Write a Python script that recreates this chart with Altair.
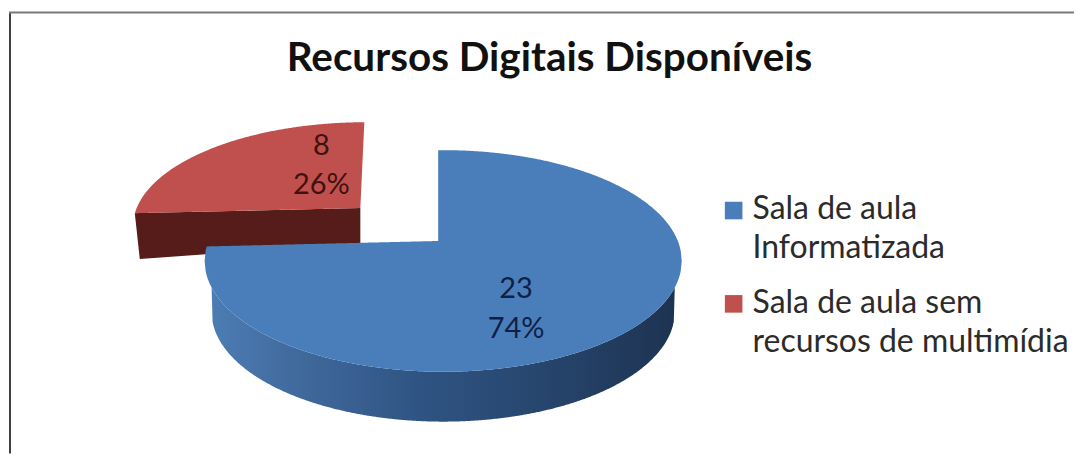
import numpy as np
import pandas as pd
import altair as alt

TITLE = "Recursos Digitais Disponíveis"
CATEGORIES = ["Sala de aula Informatizada", "Sala de aula sem recursos de multimídia"]
VALUES = [23, 8]
PERCENTS = ["74%", "26%"]
COLORS = ["#4a7ebb", "#c0504d"]
LEGEND_LINES = [["Sala de aula", "Informatizada"], ["Sala de aula sem", "recursos de multimídia"]]

# sweep of each slice, clockwise from 12 o'clock, derived from the values
total = sum(VALUES)
blue_sweep = 2 * np.pi * VALUES[0] / total


def rim(x, cx, cy, a, b, sign):
    r = np.clip(1 - ((x - cx) / a) ** 2, 0, 1)
    return cy + sign * b * np.sqrt(r)


def ray_hit(theta, apex, cx, cy, a, b):
    """Where the ray from the (perspective) pie centre at angle theta meets the rim."""
    dx, dy = np.sin(theta) * a, -np.cos(theta) * b
    px, py = (apex[0] - cx) / a, (apex[1] - cy) / b
    qx, qy = dx / a, dy / b
    A, B, C = qx**2 + qy**2, 2 * (px * qx + py * qy), px**2 + py**2 - 1
    t = (-B + np.sqrt(B**2 - 4 * A * C)) / (2 * A)
    return apex[0] + t * dx, apex[1] + t * dy


# ---- blue slice (projected disc)
B_APEX = (438, 241)
B_E = (443, 261, 239, 111)
B_FLOOR = (443, 312, 232, 110)
bx_end, by_end = ray_hit(blue_sweep, B_APEX, *B_E)
xs = np.linspace(B_E[0] - B_E[2], B_E[0] + B_E[2], 481)
xs = np.sort(np.concatenate([xs, [bx_end, B_APEX[0]]]))
rows = []
for x in xs:
    low = rim(x, *B_E, 1)
    if x < bx_end:
        rows.append((x, rim(x, *B_E, -1), low))
    elif x <= B_APEX[0]:
        f = (x - bx_end) / (B_APEX[0] - bx_end)
        rows.append((x, by_end + f * (B_APEX[1] - by_end), low))
    if x >= B_APEX[0]:
        rows.append((x + (1e-3 if x == B_APEX[0] else 0), rim(x, *B_E, -1), low))
blue_face = pd.DataFrame(rows, columns=["x", "y", "y2"]).assign(cat=CATEGORIES[0])

wall = []
for x in xs:
    top = rim(x, *B_E, 1)
    inside = abs(x - B_FLOOR[0]) < B_FLOOR[2]
    wall.append((x, top, rim(x, *B_FLOOR, 1) if inside else top))
blue_wall = pd.DataFrame(wall, columns=["x", "y", "y2"])

# ---- red slice (pulled out, smaller in perspective)
R_APEX = (360, 208)
R_E = (366, 227, 234, 105)
R_FAR_X = 364
rx_end, ry_end = ray_hit(blue_sweep, R_APEX, *R_E)
rx = np.linspace(rx_end, R_FAR_X, 200)
rx = np.sort(np.concatenate([rx, [R_APEX[0]]]))
far_y = rim(R_FAR_X, *R_E, -1)
r_low = np.where(
    rx <= R_APEX[0],
    ry_end + (rx - rx_end) / (R_APEX[0] - rx_end) * (R_APEX[1] - ry_end),
    R_APEX[1] + (rx - R_APEX[0]) / (R_FAR_X - R_APEX[0]) * (far_y - R_APEX[1]),
)
red_face = pd.DataFrame({"x": rx, "y": rim(rx, *R_E, -1), "y2": r_low, "cat": CATEGORIES[1]})

R_DEPTH_NEAR, R_DEPTH_APEX = 46, 35
rw_x = np.array([rx_end, rx_end + 5, R_APEX[0]])
rw_top = ry_end + (rw_x - rx_end) / (R_APEX[0] - rx_end) * (R_APEX[1] - ry_end)
rw_bot = np.array([ry_end, ry_end + R_DEPTH_NEAR, R_APEX[1] + R_DEPTH_APEX])
red_wall = pd.DataFrame({"x": rw_x, "y": rw_top, "y2": rw_bot})

X_SCALE = alt.Scale(domain=[8, 1075], nice=False, zero=False)
Y_SCALE = alt.Scale(domain=[454, 8], nice=False, zero=False)
X = alt.X("x:Q", scale=X_SCALE, axis=None)
Y = alt.Y("y:Q", scale=Y_SCALE, axis=None)
color_scale = alt.Scale(domain=CATEGORIES, range=COLORS)


def area(df, **mark):
    return alt.Chart(df).mark_area(orient="vertical", **mark).encode(x=X, y=Y, y2=alt.Y2("y2:Q"))


side_gradient = alt.LinearGradient(
    gradient="linear", x1=0, x2=1, y1=0, y2=0,
    stops=[
        alt.GradientStop(color="#4d7eb6", offset=0),
        alt.GradientStop(color="#40699c", offset=0.2),
        alt.GradientStop(color="#2f5483", offset=0.45),
        alt.GradientStop(color="#27466e", offset=0.7),
        alt.GradientStop(color="#1d3250", offset=1),
    ],
)

red_wall_layer = area(red_wall, color="#561c19")
red_face_layer = area(red_face).encode(color=alt.Color("cat:N", scale=color_scale, legend=None))
blue_wall_layer = area(blue_wall, color=side_gradient)
blue_face_layer = area(blue_face).encode(color=alt.Color("cat:N", scale=color_scale, legend=None))

# frame of the picture: left and top edges
frame_left = alt.Chart(pd.DataFrame({"x": [9], "y": [12], "y2": [454]})).mark_rule(
    color="#3f3f3f", strokeWidth=2
).encode(x=X, y=Y, y2="y2:Q")
frame_top = alt.Chart(pd.DataFrame({"x": [8], "x2": [1075], "y": [12]})).mark_rule(
    color="#7a7a7a", strokeWidth=2
).encode(x=X, x2="x2:Q", y=Y)

title = alt.Chart(pd.DataFrame({"x": [549.5], "y": [71], "t": [TITLE]})).mark_text(
    font="Lato", fontWeight="bold", fontSize=40.5, color="#111111", align="center", baseline="alphabetic"
).encode(x=X, y=Y, text="t:N")

labels = pd.DataFrame({
    "x": [516, 516, 321, 321],
    "y": [298, 338, 155, 194],
    "t": [str(VALUES[0]), PERCENTS[0], str(VALUES[1]), PERCENTS[1]],
    "cat": ["b", "b", "r", "r"],
})
data_labels = alt.Chart(labels).mark_text(
    font="Lato", fontSize=29, align="center", baseline="alphabetic"
).encode(
    x=X, y=Y, text="t:N",
    color=alt.Color("cat:N", scale=alt.Scale(domain=["b", "r"], range=["#0f1f45", "#3f1210"]), legend=None),
)

squares = alt.Chart(pd.DataFrame({"x": [734, 734], "y": [210.5, 304], "cat": CATEGORIES})).mark_square(
    size=310, opacity=1, filled=True
).encode(x=X, y=Y, color=alt.Color("cat:N", scale=color_scale, legend=None))

legend_text = pd.DataFrame({
    "x": [753, 753, 753, 753],
    "y": [219, 258, 313, 352],
    "t": LEGEND_LINES[0] + LEGEND_LINES[1],
})
legend_labels = alt.Chart(legend_text).mark_text(
    font="Lato", fontSize=32, color="#2b2b2b", align="left", baseline="alphabetic"
).encode(x=X, y=Y, text="t:N")

chart = alt.layer(
    frame_left, frame_top, red_wall_layer, red_face_layer, blue_wall_layer, blue_face_layer,
    title, data_labels, squares, legend_labels,
).resolve_scale(color="independent").properties(
    width=1067, height=446, padding=0, background="white"
).configure_view(stroke=None)

chart.save("out.html", embed_options={"renderer": "svg", "actions": False})
